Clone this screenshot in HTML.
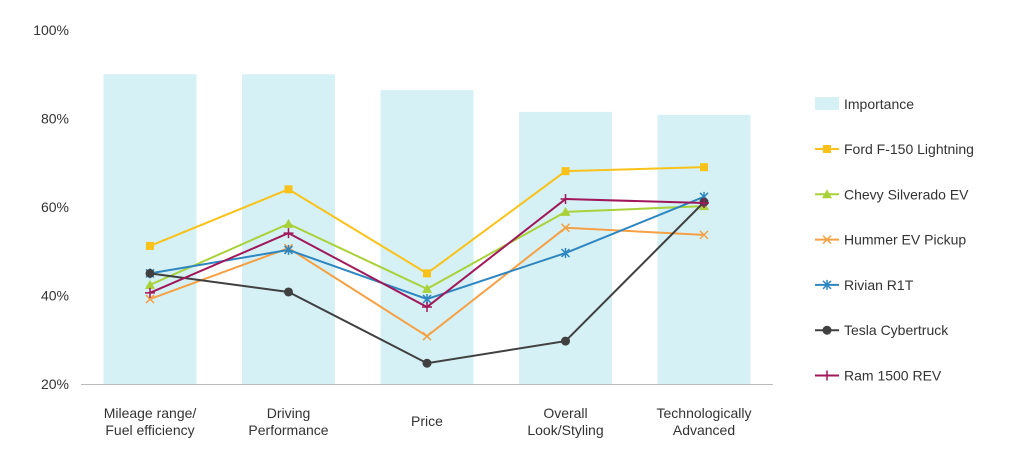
<!DOCTYPE html>
<html><head><meta charset="utf-8"><style>
body{margin:0;background:#fff;font-family:"Liberation Sans",sans-serif;}
svg text{font-family:"Liberation Sans",sans-serif;fill:#333;}
</style></head><body>
<svg id="chart" width="1024" height="464"></svg>
<script>
const categories=[["Mileage range/","Fuel efficiency"],["Driving","Performance"],["Price"],["Overall","Look/Styling"],["Technologically","Advanced"]];
const importance=[90,90,86.4,81.5,80.8];
const ford=[51.2,64,45,68.1,69];
const chevy=[42.4,56.2,41.5,58.9,60.2];
const hummer=[39.2,50.7,30.8,55.3,53.7];
const rivian=[45,50.3,39.2,49.6,62.3];
const tesla=[45,40.8,24.7,29.7,61.1];
const ram=[40.6,54.1,37.4,61.8,60.9];
const yTicks=[20,40,60,80,100];
const series=[
 {name:"Ford F-150 Lightning",data:ford,color:"#F9C21B",m:"square",id:"ford"},
 {name:"Chevy Silverado EV",data:chevy,color:"#A8D13A",m:"tri",id:"chevy"},
 {name:"Hummer EV Pickup",data:hummer,color:"#F5A044",m:"x",id:"hummer"},
 {name:"Rivian R1T",data:rivian,color:"#2E86C1",m:"star",id:"rivian"},
 {name:"Tesla Cybertruck",data:tesla,color:"#404040",m:"circle",id:"tesla"},
 {name:"Ram 1500 REV",data:ram,color:"#A0185A",m:"plus",id:"ram"}];
const svg=document.getElementById('chart');const NS="http://www.w3.org/2000/svg";
function el(t,a,p){const e=document.createElementNS(NS,t);for(const k in a)e.setAttribute(k,a[k]);(p||svg).appendChild(e);return e;}
const y=v=>384-(v-20)*354/80;
const x=i=>150+i*138.5;
yTicks.forEach(t=>{const e=el('text',{x:69,y:y(t)+5,'text-anchor':'end','font-size':14});e.textContent=t+'%';

});
importance.forEach((v,i)=>{const r=el('rect',{x:x(i)-46.5,y:y(v),width:93,height:384-y(v),fill:'#D6F1F5'});

});
const ax=el('line',{x1:81,x2:773,y1:384.5,y2:384.5,stroke:'#bbb'});


categories.forEach((c,i)=>{c.forEach((l,j)=>{const t=el('text',{x:x(i),y:(c.length==1?426:418)+j*17,'text-anchor':'middle','font-size':14});t.textContent=l;

});});
function marker(m,cx,cy,c,g){
 if(m=="square")el('rect',{x:cx-4,y:cy-4,width:8,height:8,fill:c},g);
 else if(m=="tri")el('polygon',{points:`${cx},${cy-5} ${cx+5},${cy+4} ${cx-5},${cy+4}`,fill:c},g);
 else if(m=="circle")el('circle',{cx,cy,r:4.5,fill:c},g);
 else if(m=="x"){el('path',{d:`M${cx-4} ${cy-4}L${cx+4} ${cy+4}M${cx+4} ${cy-4}L${cx-4} ${cy+4}`,stroke:c,'stroke-width':1.5},g);}
 else if(m=="plus"){el('path',{d:`M${cx-5} ${cy}H${cx+5}M${cx} ${cy-5}V${cy+5}`,stroke:c,'stroke-width':1.5},g);}
 else if(m=="star"){el('path',{d:`M${cx-4} ${cy-4}L${cx+4} ${cy+4}M${cx+4} ${cy-4}L${cx-4} ${cy+4}M${cx} ${cy-5}V${cy+5}`,stroke:c,'stroke-width':1.5},g);}
}
series.forEach(s=>{const g=el('g',{});


el('polyline',{points:s.data.map((v,i)=>x(i)+','+y(v)).join(' '),fill:'none',stroke:s.color,'stroke-width':2},g);
s.data.forEach((v,i)=>marker(s.m,x(i),y(v),s.color,g));});
// legend
const lg=el('g',{});


const ib=el('rect',{x:815,y:97,width:24,height:13,fill:'#D6F1F5'},lg);
const it=el('text',{x:844,y:109,'font-size':14},lg);it.textContent='Importance';
series.forEach((s,k)=>{const ly=149+k*45.3;const g=el('g',{},lg);


el('line',{x1:815,x2:839,y1:ly,y2:ly,stroke:s.color,'stroke-width':2},g);marker(s.m,827,ly,s.color,g);
const t=el('text',{x:844,y:ly+5,'font-size':14},g);t.textContent=s.name;});
</script>
</body></html>
